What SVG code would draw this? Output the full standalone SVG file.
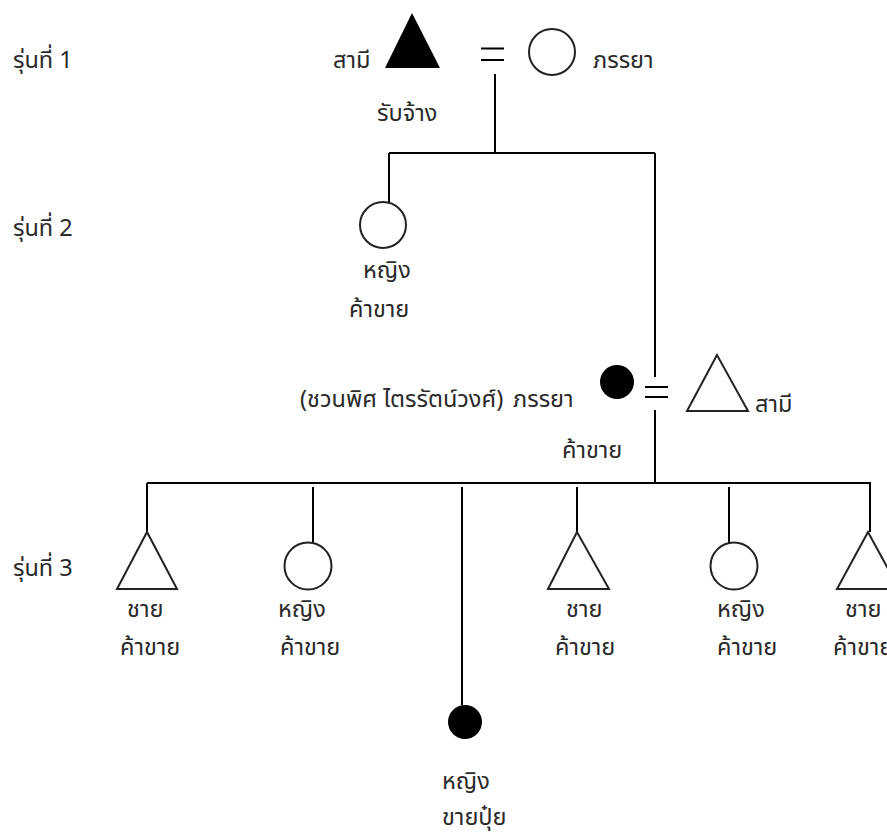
<svg xmlns="http://www.w3.org/2000/svg" width="887" height="837" viewBox="0 0 887 837">
<style>
text{font-family:"Noto Sans Thai","Noto Sans","Liberation Sans",sans-serif;font-size:23.5px;fill:#2a2a2a}
.ln{stroke:#000;stroke-width:2;fill:none}
.open{fill:#fff;stroke:#222;stroke-width:2}
.solid{fill:#000;stroke:none}
</style>
<rect width="887" height="837" fill="#fff"/>
<g id="gen-labels">
<text x="13" y="68">รุ่นที่ 1</text>
<text x="13" y="236">รุ่นที่ 2</text>
<text x="13" y="576">รุ่นที่ 3</text>
</g>
<g id="connectors">
<path class="ln" d="M481,48.5H504M481,60H504"/>
<path class="ln" d="M495,74V153M389,153H655M389,153V202M655,153V377"/>
<path class="ln" d="M645,387H668M645,397H668"/>
<path class="ln" d="M655,410V483M147,483H871M147,483V532M870,483V532"/>
<path class="ln" d="M313,487V543M462,487V705M577,487V532M729,487V543"/>
</g>
<g id="g1-husband">
<polygon class="solid" points="412,13 385,68 440,68"/>
<text x="333" y="68">สามี</text>
<text x="377" y="121">รับจ้าง</text>
</g>
<g id="g1-wife">
<circle class="open" cx="552" cy="52" r="23"/>
<text x="593" y="68">ภรรยา</text>
</g>
<g id="g2-daughter1">
<circle class="open" cx="383" cy="225" r="23"/>
<text x="363" y="278">หญิง</text>
<text x="349" y="317">ค้าขาย</text>
</g>
<g id="g2-wife">
<circle class="solid" cx="617" cy="382" r="17"/>
<text x="300" y="407">(ชวนพิศ ไตรรัตน์วงศ์)</text>
<text x="513" y="407">ภรรยา</text>
<text x="562" y="458">ค้าขาย</text>
</g>
<g id="g2-husband">
<polygon class="open" points="717,355 687,411 748,411"/>
<text x="755" y="412">สามี</text>
</g>
<g id="g3-child1">
<polygon class="open" points="147,532 117,589 177,589"/>
<text x="127" y="617">ชาย</text>
<text x="120" y="655">ค้าขาย</text>
</g>
<g id="g3-child2">
<circle class="open" cx="308" cy="566" r="23.5"/>
<text x="278" y="617">หญิง</text>
<text x="280" y="655">ค้าขาย</text>
</g>
<g id="g3-child3">
<circle class="solid" cx="465" cy="722" r="17"/>
<text x="442" y="789">หญิง</text>
<text x="442" y="825">ขายปุ๋ย</text>
</g>
<g id="g3-child4">
<polygon class="open" points="577,532 548,589 609,589"/>
<text x="566" y="617">ชาย</text>
<text x="555" y="655">ค้าขาย</text>
</g>
<g id="g3-child5">
<circle class="open" cx="734" cy="566" r="23.5"/>
<text x="717" y="617">หญิง</text>
<text x="717" y="655">ค้าขาย</text>
</g>
<g id="g3-child6">
<polygon class="open" points="868,532 837,589 899,589"/>
<text x="845" y="617">ชาย</text>
<text x="833" y="655">ค้าขาย</text>
</g>
</svg>
